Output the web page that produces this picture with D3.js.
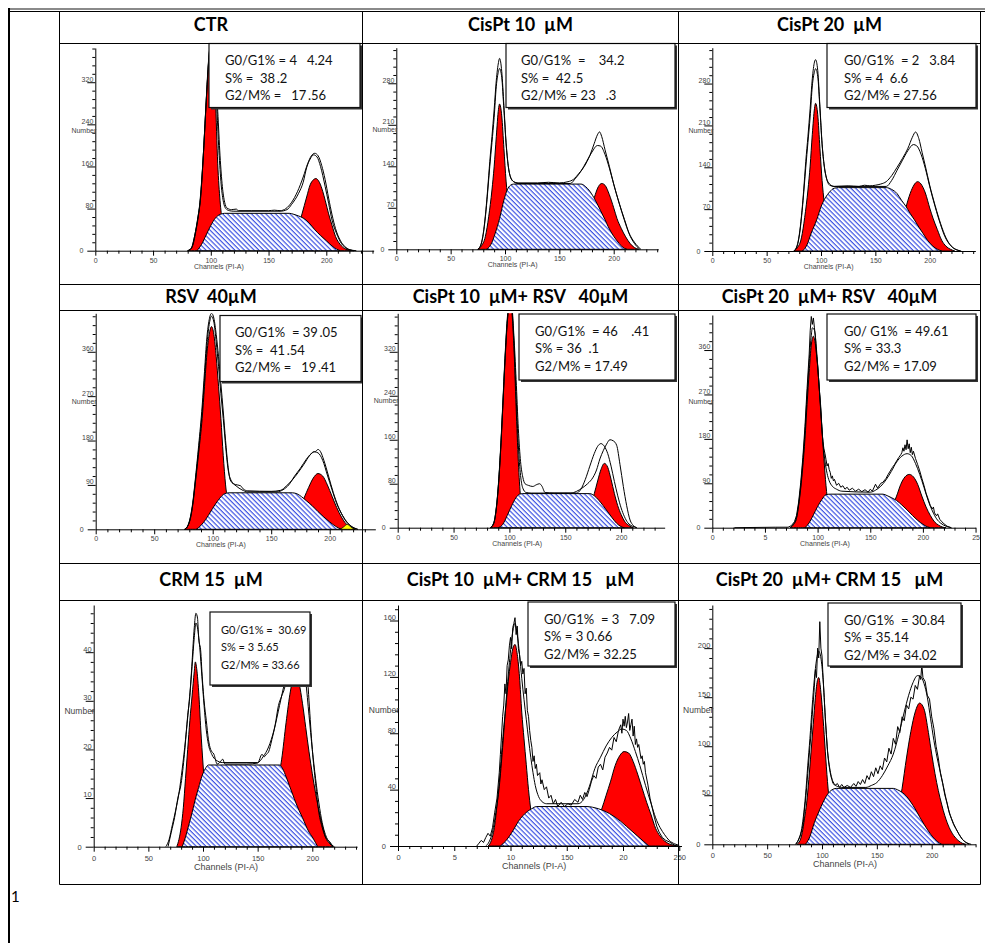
<!DOCTYPE html>
<html lang="en">
<head>
<meta charset="UTF-8">
<title>Cell cycle histograms</title>
<script src="https://cdn.jsdelivr.net/npm/d3@7"></script>
<style>
  body { margin: 0; background: #fff; }
  .title { font-family: Lato, 'Open Sans', sans-serif; font-weight: bold; font-size: 18px; white-space: pre; }
  .stat { font-family: Lato, 'Open Sans', sans-serif; white-space: pre; fill: #111; }
  .axis text { font-family: 'Liberation Sans', Arial, sans-serif; fill: #444; }
  .axis-label { font-family: 'Liberation Sans', Arial, sans-serif; fill: #444; }
</style>
</head>
<body>
<svg id="chart" width="985" height="943"></svg>
<script>
// ---- data: [channel, count] ----
const titles = ['CTR', 'CisPt 10  µM', 'CisPt 20  µM',
  'RSV  40µM', 'CisPt 10  µM+ RSV   40µM', 'CisPt 20  µM+ RSV   40µM',
  'CRM 15  µM', 'CisPt 10  µM+ CRM 15   µM', 'CisPt 20  µM+ CRM 15   µM']

const statLines = [
  ['G0/G1% = 4   4.24', 'S% =  38\u2009.2', 'G2/M% =   17\u2009.56'],
  ['G0/G1%  =    34.2', 'S% =  42\u2009.5', 'G2/M% = 23   .3'],
  ['G0/G1%  = 2   3.84', 'S% = 4  6.6', 'G2/M% = 27.56'],
  ['G0/G1%  = 39\u2009.05', 'S% =  41\u2009.54', 'G2/M% =   19\u2009.41'],
  ['G0/G1%  = 46    .41', 'S% = 36  .1', 'G2/M% = 17.49'],
  ['G0/ G1%  = 49.61', 'S% = 33.3', 'G2/M% = 17.09'],
  ['G0/G1% =  30.69', 'S% = 3 5.65', 'G2/M% = 33.66'],
  ['G0/G1%  = 3   7.09', 'S% = 3 0.66', 'G2/M% = 32.25'],
  ['G0/G1%  = 30.84', 'S% = 35.14', 'G2/M% = 34.02']
]

const yAxisMax = [385, 340, 340, 438, 390, 431, 49.7, 171, 244]
const yMajorStep = [80, 70, 70, 90, 80, 90, 10, 40, 50]
const yMinorStep = [16, 14, 14, 18, 16, 18, 2, 8, 10]
const stdLabels = ['0', '50', '100', '150', '200']
const xTickLabels = [stdLabels, stdLabels, stdLabels, stdLabels, stdLabels,
  ['0', '5', '100', '150', '200', '25'], stdLabels,
  ['0', '5', '10', '150', '20', '250'], stdLabels]

// G0/G1 peak (red)
const g1Curves = [
  [[80,0],[83,4],[86,28],[89,65],[91,96],[93,160],[95,240],[97,320],[99,380],[100,390],[102,370],[104,290],[106,165],[108,95],[110,55],[113,22],[116,6],[120,0]],
  [[75,0],[78,5],[82,22],[85,55],[88,100],[90,139],[92,190],[94,236],[95,245],[97,225],[99,170],[101,115],[103,78],[105,48],[108,22],[112,7],[116,0]],
  [[75,0],[78,5],[82,22],[85,56],[88,102],[90,142],[92,195],[94,238],[95,247],[97,228],[99,172],[101,118],[103,80],[105,50],[108,23],[112,7],[116,0]],
  [[76,0],[79,8],[81,22],[83,50],[85,90],[88,155],[91,225],[93,290],[95,355],[97,395],[99,411],[101,395],[103,350],[105,290],[107,225],[109,150],[111,90],[114,45],[118,15],[122,3],[126,0]],
  [[83,0],[86,8],[88,30],[90,72],[92,135],[94,215],[96,300],[98,370],[100,405],[102,395],[104,330],[106,220],[108,120],[110,55],[112,22],[115,6],[118,0]],
  [[74,0],[77,6],[80,19],[82,45],[84,80],[86,125],[88,180],[90,250],[92,315],[94,370],[96,388],[98,370],[100,328],[102,270],[104,205],[106,140],[108,85],[110,45],[113,15],[117,3],[120,0]],
  [[76,0],[78,1.5],[80,4],[82,8],[84,14],[86,20],[88,26],[90,31],[92,36],[93,38],[94,37],[96,32],[98,24],[100,17],[102,11],[104,6],[107,2.5],[110,0]],
  [[80,0],[83,4],[86,15],[88,29],[90,45],[92,65],[94,84],[96,100],[98,117],[100,130],[102,140],[104,143],[106,136],[108,120],[110,95],[112,76],[114,58],[116,40],[118,26],[121,13],[125,4],[130,0]],
  [[77,0],[80,4],[82,12],[84,26],[86,42],[88,66],[90,94],[92,122],[94,150],[96,168],[97,170],[99,155],[101,128],[103,95],[105,64],[107,40],[110,18],[114,5],[118,0]]
]

// S phase (hatched)
const sCurves = [
  [[88,0],[92,12],[96,30],[100,48],[104,62],[108,69],[112,71],[168,71],[172,69],[176,66],[180,62],[185,53],[190,40],[195,29],[200,19],[205,9],[209,3],[212,0]],
  [[83,0],[87,8],[91,27],[95,52],[99,83],[102,100],[105,108],[108,110],[170,110],[174,106],[178,98],[183,83],[188,65],[192,50],[195,38],[200,22],[205,10],[208,4],[212,0]],
  [[83,0],[87,10],[91,30],[96,52],[100,74],[104,89],[108,99],[112,105],[116,106],[160,106],[165,103],[170,96],[174,85],[178,75],[182,63],[186,52],[190,40],[194,29],[198,18],[203,8],[207,3],[211,0]],
  [[86,0],[90,8],[94,20],[98,35],[102,50],[106,63],[110,72],[114,74],[168,74],[172,72],[176,66],[180,58],[185,48],[190,36],[195,25],[200,15],[205,6],[210,0]],
  [[90,0],[94,6],[98,22],[102,40],[106,55],[109,61],[112,62],[172,62],[176,58],[180,50],[184,40],[188,29],[192,18],[196,8],[200,2],[203,0]],
  [[88,0],[92,10],[96,26],[100,43],[104,57],[108,67],[112,68],[162,68],[166,65],[170,61],[175,55],[180,46],[185,36],[190,25],[195,15],[200,7],[204,2],[207,0]],
  [[81,0],[84,2],[87,4.5],[90,7],[93,9.8],[96,12.2],[99,14.5],[102,16],[105,16.8],[170,16.8],[173,16],[176,14.4],[179,12.6],[182,10.8],[185,9],[188,7.4],[191,6],[194,4.4],[197,3],[200,2],[203,0.8],[205,0]],
  [[91,0],[95,3],[99,7],[103,12],[107,17.5],[111,21.5],[115,24.5],[119,26.5],[123,28],[168,28],[173,27.5],[178,26.5],[183,25],[188,23],[193,20.5],[198,17.5],[203,14],[208,10.5],[213,7],[218,3.5],[223,0]],
  [[85,0],[89,8],[93,22],[97,33],[101,43],[105,51],[109,55.5],[113,57],[165,57],[169,55.5],[173,53],[177,49],[181,43],[185,36],[189,28],[193,20.5],[197,13.5],[201,7.5],[205,3],[209,0]]
]

// G2/M peak (red)
const g2Curves = [
  [[165,0],[170,12],[175,38],[179,70],[183,102],[186,125],[189,135],[191,137],[194,130],[197,112],[199,96],[202,70],[205,48],[208,27],[212,12],[216,4],[220,1],[224,0]],
  [[165,0],[170,15],[175,40],[180,72],[183,92],[186,106],[189,111],[192,108],[196,92],[200,70],[203,52],[207,35],[211,21],[215,10],[219,3],[223,0]],
  [[165,0],[170,18],[175,50],[180,85],[184,105],[187,114],[189,116],[192,112],[196,97],[200,72],[203,55],[207,36],[211,18],[215,8],[219,3],[223,0]],
  [[162,0],[168,12],[173,35],[178,63],[182,85],[186,104],[190,113],[194,108],[198,90],[202,67],[206,44],[210,25],[214,11],[218,4],[222,0]],
  [[165,0],[169,18],[173,42],[176,62],[179,85],[182,106],[185,117],[188,110],[191,88],[194,62],[197,40],[200,24],[203,12],[207,4],[211,0]],
  [[160,0],[165,15],[170,38],[175,64],[179,88],[183,103],[187,108],[191,103],[195,88],[199,64],[203,42],[207,25],[211,12],[215,5],[219,1],[222,0]],
  [[150,0],[158,3],[164,8],[168,13],[172,18],[176,25.5],[180,32],[184,35.5],[188,33.5],[191,29.5],[194,24.5],[197,19.5],[200,15],[203,11],[206,7.5],[209,4.5],[212,2],[216,0.6],[219,0]],
  [[160,0],[166,4],[172,10],[177,18],[181,26],[185,36],[189,46],[193,57],[197,64],[201,67],[205,66],[209,60],[213,51],[217,41],[221,31],[225,22],[229,12.5],[233,7],[237,3.5],[241,1.5],[246,0.4],[249,0]],
  [[155,0],[160,6],[165,16],[169,32],[173,57],[177,88],[181,115],[185,135],[189,144],[193,138],[197,114],[200,92],[203,72],[206,55],[209,41],[212,29],[216,17],[220,9],[224,4],[228,1],[231,0]]
]

// small debris peak (yellow), only in RSV panel
const debrisCurves = [[], [], [], [[209,0],[212,5],[215,10],[218,5],[221,0]], [], [], [], [], []]

// model fit envelope
const fitCurves = [
  [[80,0],[83,4],[86,28],[89,66],[91,98],[93,162],[95,242],[97,322],[99,382],[100,392],[101,388],[103,340],[105,280],[107,190],[109,125],[111,92],[113,80],[116,76],[120,75],[160,75],[166,78],[170,88],[176,109],[180,130],[183,158],[186,174],[189,182],[192,178],[195,160],[199,122],[202,90],[205,58],[209,32],[213,14],[218,4],[224,0]],
  [[75,0],[78,8],[80,25],[82,55],[84,95],[86,140],[88,180],[90,222],[92,275],[94,300],[95,305],[97,290],[99,235],[101,178],[103,140],[105,122],[108,114],[112,111],[160,111],[165,120],[170,132],[175,148],[180,164],[185,175],[188,174],[192,160],[196,137],[200,110],[205,78],[210,48],[214,27],[219,10],[224,0]],
  [[75,0],[78,8],[80,25],[82,55],[84,95],[86,140],[88,182],[90,224],[92,276],[94,300],[95,305],[97,292],[99,238],[101,178],[103,142],[105,122],[108,112],[112,108],[160,108],[165,118],[170,135],[175,152],[180,168],[185,178],[188,176],[192,162],[196,138],[200,108],[205,74],[210,44],[214,24],[220,8],[228,0]],
  [[76,0],[79,8],[81,24],[83,52],[85,94],[88,162],[91,238],[93,305],[95,372],[97,415],[99,432],[101,420],[103,380],[105,330],[107,275],[109,225],[111,170],[113,124],[116,98],[120,88],[125,80],[130,76],[155,76],[160,80],[165,90],[170,108],[175,124],[180,142],[184,153],[187,157],[190,155],[194,140],[198,110],[202,80],[206,52],[210,32],[214,16],[218,7],[224,0]],
  [[83,0],[86,8],[88,30],[90,72],[92,136],[94,218],[96,303],[98,372],[100,408],[102,400],[104,340],[106,240],[108,150],[110,95],[112,72],[115,64],[120,63],[160,63],[164,70],[168,88],[172,112],[176,135],[179,148],[182,153],[185,148],[188,135],[191,112],[194,84],[197,58],[200,36],[203,20],[206,9],[210,3],[214,0]],
  [[74,0],[77,7],[80,21],[82,48],[84,86],[86,135],[88,195],[90,268],[92,335],[94,390],[95,405],[97,400],[99,360],[101,300],[103,235],[105,175],[107,135],[109,110],[111,95],[114,84],[118,78],[123,74],[150,72],[155,76],[160,84],[165,97],[170,114],[175,133],[180,145],[185,150],[189,146],[193,130],[197,108],[201,82],[205,55],[209,34],[213,18],[217,9],[222,3],[227,0]],
  [[66,0],[69,1.5],[72,4.5],[75,7.5],[78,11],[81,16],[84,22],[87,29],[90,37],[92,43],[93.5,46],[95,45],[97,41],[99,35],[101,29],[103,24],[105,21],[108,19],[112,17.8],[118,17.3],[150,17.3],[155,18.5],[160,20.5],[165,24],[170,29],[175,34],[180,38],[185,40],[190,39],[194,34],[197,27],[200,20],[203,14],[206,9],[209,5],[212,2.5],[216,0.8],[220,0]],
  [[78,0],[81,3],[84,10],[87,24],[90,42],[93,70],[96,102],[99,130],[102,152],[104,158],[106,150],[108,136],[110,119],[112,104],[114,90],[116,76],[118,63],[120,52],[122,43],[125,35],[128,31.5],[132,30],[160,30],[165,33],[170,42],[175,55],[180,63],[185,71],[190,77],[195,81],[199,83],[203,82],[207,76],[211,67],[215,57],[220,43],[225,30],[229,20],[233,13],[237,8],[241,4],[246,1.5],[250,0.5]],
  [[76,0],[79,6],[81,13],[83,28],[85,50],[87,80],[89,108],[91,140],[93,168],[95,188],[97,197],[99,190],[101,168],[103,130],[105,96],[107,78],[110,64],[114,59],[118,58],[140,58],[145,60],[150,63],[155,70],[160,80],[165,92],[170,112],[175,135],[179,152],[183,165],[187,172],[190,171],[193,164],[196,150],[199,128],[202,106],[205,88],[209,68],[212,52],[216,33],[220,21],[224,12],[228,5],[232,1.5],[236,0]]
]

// raw histogram
const rawCurves = [
  [[80,0],[84,8],[87,36],[90,80],[92,130],[94,200],[96,285],[98,360],[100,395],[102,392],[104,335],[106,265],[108,180],[110,122],[112,92],[114,81],[118,78],[122,79],[124,76],[135,76],[150,76],[155,77],[160,76],[165,80],[170,92],[175,112],[180,140],[184,166],[187,180],[190,185],[193,180],[196,162],[199,135],[202,100],[205,68],[208,42],[212,20],[216,8],[220,2],[226,0]],
  [[75,0],[78,9],[80,27],[82,58],[84,100],[86,148],[88,190],[90,235],[92,285],[94,315],[95,322],[97,300],[99,242],[101,180],[103,141],[105,122],[108,114],[112,112],[130,112],[140,113],[150,112],[158,114],[163,118],[168,128],[173,140],[178,158],[182,178],[185,193],[187,198],[189,190],[192,168],[196,140],[200,110],[205,78],[210,50],[214,28],[219,12],[225,0]],
  [[75,0],[78,9],[80,27],[82,58],[84,100],[86,150],[88,192],[90,238],[92,288],[94,316],[95,320],[97,302],[99,242],[101,180],[103,142],[105,122],[108,110],[112,108],[125,109],[135,108],[140,110],[145,109],[150,110],[155,112],[160,116],[165,126],[170,140],[175,155],[180,172],[184,190],[187,199],[190,188],[193,165],[196,142],[200,110],[205,76],[210,46],[215,22],[221,6],[229,0]],
  [[76,0],[79,9],[81,26],[83,55],[85,98],[88,170],[91,250],[93,320],[95,388],[97,425],[99,438],[101,428],[103,395],[105,350],[107,295],[109,240],[111,180],[113,130],[115,100],[118,92],[121,90],[124,88],[126,82],[130,78],[150,77],[158,79],[163,88],[168,100],[173,115],[178,132],[183,150],[186,157],[188,158],[190,162],[192,158],[195,140],[199,108],[203,75],[207,48],[211,28],[215,14],[219,5],[224,0]],
  [[83,0],[86,9],[88,32],[90,75],[92,140],[94,222],[96,308],[98,378],[100,410],[102,405],[104,350],[106,270],[108,180],[110,120],[112,92],[114,80],[117,77],[121,75],[124,78],[127,80],[129,76],[132,64],[140,63],[155,63],[160,66],[165,72],[170,80],[175,92],[178,105],[181,125],[184,140],[187,152],[190,160],[193,158],[196,150],[199,115],[202,75],[205,40],[208,14],[211,4],[214,0]],
  [[21,0],[60,1],[72,1],[75,4],[78,12],[80,25],[82,52],[84,92],[86,142],[88,205],[90,282],[92,352],[93,400],[94,428],[95,412],[96,425],[97,405],[98,385],[99,350],[100,330],[101,300],[102,270],[103,245],[104,205],[105,175],[106,160],[107,150],[108,138],[109,125],[110,130],[111,118],[112,112],[113,100],[114,105],[115,95],[116,98],[118,86],[120,90],[122,82],[124,85],[126,78],[128,82],[130,76],[133,80],[136,74],[139,78],[142,73],[145,77],[148,72],[150,78],[152,74],[155,88],[157,80],[160,90],[162,92],[165,100],[167,108],[169,115],[171,122],[173,128],[175,135],[177,142],[179,148],[180,152],[181,162],[182,155],[183,168],[184,158],[185,178],[186,160],[187,170],[188,152],[189,163],[190,148],[191,155],[193,140],[195,128],[197,115],[199,100],[201,86],[203,70],[205,58],[207,45],[209,38],[210,42],[211,30],[213,24],[214,28],[216,17],[218,12],[220,8],[223,3],[227,0]],
  [[68,0],[71,3],[74,6],[77,10],[80,13],[83,19],[86,27],[88,31],[90,38],[92,45],[93.5,48],[95,47],[96,43],[98,40],[99,36],[101,30],[103,26],[105,22],[107,20],[110,19],[113,17],[116,17.5],[118,18],[120,17],[140,17],[150,17.2],[154,19],[156,18.5],[158,19],[160,19.5],[163,22],[166,25],[169,29],[172,31],[175,33],[178,38],[181,40],[185,42],[190,44],[194,40],[197,30],[200,20],[203,13],[206,7],[209,4],[212,2],[216,1],[219,0]],
  [[70,0],[72,2],[74,4],[76,2.5],[78,6],[80,9],[82,7],[84,13],[86,24],[88,34],[90,52],[91,65],[92,78],[93,92],[94,100],[95,115],[96,108],[97,128],[98,132],[99,142],[100,148],[101,140],[102,155],[103,158],[104,162],[105,150],[106,156],[107,140],[108,136],[109,128],[110,131],[111,122],[112,126],[113,108],[114,112],[115,96],[116,92],[117,82],[118,75],[119,70],[120,60],[121,64],[122,55],[123,58],[124,50],[126,52],[127,44],[128,47],[130,40],[132,42],[134,34],[136,36],[138,30],[140,33],[142,28],[145,31],[148,28],[151,30],[154,29],[157,33],[160,31],[162,36],[164,33],[166,38],[168,35],[170,40],[172,46],[174,50],[176,48],[178,56],[180,58],[182,54],[184,63],[186,66],[188,70],[190,68],[192,77],[194,74],[196,82],[198,86],[199,80],[200,90],[201,85],[202,92],[203,84],[204,88],[205,94],[206,82],[207,86],[208,90],[209,78],[210,85],[211,72],[212,76],[213,70],[214,72],[216,62],[217,64],[218,58],[219,60],[220,52],[222,44],[224,34],[226,27],[228,20],[230,14],[232,10],[235,6],[238,4],[241,3],[244,1.5],[247,0]],
  [[76,0],[78,3],[80,8],[82,16],[83,22],[84,35],[85,45],[86,58],[87,72],[88,86],[89,100],[90,112],[91,130],[92,145],[93,160],[94,178],[95,170],[96,200],[97,190],[98,227],[99,200],[100,192],[101,170],[102,150],[103,128],[104,112],[105,95],[106,84],[107,76],[108,70],[109,66],[110,62],[112,60],[114,62],[116,58],[118,61],[120,58],[123,60],[126,58],[129,62],[131,59],[133,64],[135,61],[137,66],[139,62],[141,70],[143,66],[145,74],[147,69],[149,78],[151,72],[153,80],[155,76],[157,88],[159,84],[161,98],[163,92],[165,108],[167,102],[169,120],[171,114],[173,130],[175,126],[177,142],[179,138],[181,150],[183,148],[185,162],[187,158],[189,172],[190,168],[191,183],[192,170],[194,166],[196,152],[198,148],[200,130],[202,118],[204,100],[206,88],[208,72],[210,62],[212,50],[214,42],[216,32],[218,26],[220,20],[222,16],[225,10],[228,5],[231,2],[234,0]]
]

// ---- layout (pixels) ----
const colX = [59.5, 362.5, 678.5, 980.5]
const rowY = [[11.5, 43.5, 284.5], [284.5, 310.5, 563.5], [563.5, 600.5, 884.5]]
const titleBase = [31, 302.5, 586]
const layout = [
  { ax: 95.3, ay: 250.7, ppc: 1.155, xEnd: 241, top: 48, box: [209, 43.5, 151, 64], tx: 16, fs: 13 },
  { ax: 396.3, ay: 249.3, ppc: 1.087, xEnd: 241, top: 47.7, box: [506, 43.5, 169, 64], tx: 15, fs: 13 },
  { ax: 712.3, ay: 251, ppc: 1.087, xEnd: 242, top: 47.7, box: [827, 43.5, 149, 64], tx: 17, fs: 13 },
  { ax: 95.7, ay: 529.3, ppc: 1.17, xEnd: 239, top: 313.3, box: [220, 315.5, 141, 66], tx: 15, fs: 13 },
  { ax: 397.7, ay: 527.7, ppc: 1.117, xEnd: 239, top: 313.3, box: [519, 314, 156, 66], tx: 16, fs: 13 },
  { ax: 712.3, ay: 527.7, ppc: 1.053, xEnd: 250, top: 315, box: [827, 314, 149, 66], tx: 17, fs: 13 },
  { ax: 93.7, ay: 846.7, ppc: 1.093, xEnd: 241, top: 605, box: [210, 612, 100, 73], tx: 11, fs: 11 },
  { ax: 398, ay: 846, ppc: 1.125, xEnd: 252, top: 605, box: [528, 602, 147, 64], tx: 16, fs: 13 },
  { ax: 712.3, ay: 844.3, ppc: 1.097, xEnd: 240, top: 605, box: [828, 603, 133, 63], tx: 16, fs: 13 }
]
const jaggedPanels = [5, 7, 8]

const svg = d3.select('#chart')
const defs = svg.append('defs')

// diagonal blue hatch for the S phase
const hatch = defs.append('pattern')
  .attr('id', 'hatch')
  .attr('patternUnits', 'userSpaceOnUse')
  .attr('width', 3.4).attr('height', 3.4)
  .attr('patternTransform', 'rotate(45)')
hatch.append('rect').attr('width', 3.4).attr('height', 3.4).attr('fill', '#fff')
hatch.append('rect').attr('width', 3.4).attr('height', 1.2).attr('fill', '#3d52e2')

titles.forEach((title, i) => {
  const row = Math.floor(i / 3)
  const col = i % 3
  const L = layout[i]

  // title
  svg.append('text')
    .attr('class', 'title')
    .attr('x', (colX[col] + colX[col + 1]) / 2)
    .attr('y', titleBase[row])
    .attr('text-anchor', 'middle')
    .text(title)

  const x = d3.scaleLinear().domain([0, L.xEnd]).range([L.ax, L.ax + L.xEnd * L.ppc])
  const y = d3.scaleLinear().domain([0, yAxisMax[i]]).range([L.ay, L.top])

  defs.append('clipPath').attr('id', `clip${i}`)
    .append('rect')
    .attr('x', L.ax).attr('y', L.top)
    .attr('width', L.xEnd * L.ppc).attr('height', L.ay - L.top + 1)

  const g = svg.append('g')
  const small = row === 2 ? 7.5 : 7

  // axes
  const xAxis = d3.axisBottom(x)
    .tickValues(d3.range(0, L.xEnd + 0.001, 10))
    .tickSizeInner(3).tickSizeOuter(0)
    .tickFormat(d => d % 50 === 0 ? (xTickLabels[i][d / 50] || '') : '')
  const gx = g.append('g').attr('class', 'axis')
    .attr('transform', `translate(0,${L.ay})`)
    .call(xAxis)
  gx.attr('font-size', small)
  gx.selectAll('.tick line').filter(d => d % 50 === 0).attr('y2', 5)
  gx.selectAll('.tick text').attr('y', row === 2 ? 8.5 : 7)

  const yAxis = d3.axisLeft(y)
    .tickValues(d3.range(0, yAxisMax[i] + 0.001, yMinorStep[i]))
    .tickSizeInner(3).tickSizeOuter(0)
    .tickFormat(d => d % yMajorStep[i] === 0 ? d : '')
  const gy = g.append('g').attr('class', 'axis')
    .attr('transform', `translate(${L.ax},0)`)
    .call(yAxis)
  gy.attr('font-size', small)
  gy.selectAll('.tick line').filter(d => d % yMajorStep[i] === 0).attr('x2', -8)
  gy.selectAll('.tick text')
    .attr('x', d => d === 0 ? -12 : -2)
    .attr('dy', d => d === 0 ? '0.32em' : '-0.15em')

  g.append('text')
    .attr('class', 'axis-label')
    .attr('font-size', row === 2 ? 8.5 : 7)
    .attr('text-anchor', 'end')
    .attr('x', L.ax + 1)
    .attr('y', L.ay - (row === 2 ? 0.55 : 0.58) * (L.ay - L.top))
    .text('Number')

  g.append('text')
    .attr('class', 'axis-label')
    .attr('font-size', row === 2 ? 9 : 7)
    .attr('text-anchor', 'middle')
    .attr('x', x(row === 2 ? 121 : 107))
    .attr('y', L.ay + (row === 2 ? 23 : 18))
    .text('Channels (PI-A)')

  // marks
  const marks = g.append('g').attr('clip-path', `url(#clip${i})`)
  const area = d3.area()
    .x(d => x(d[0])).y0(y(0)).y1(d => y(d[1]))
    .curve(d3.curveMonotoneX)
  const smooth = d3.line().x(d => x(d[0])).y(d => y(d[1])).curve(d3.curveMonotoneX)
  const rough = d3.line().x(d => x(d[0])).y(d => y(d[1]))

  marks.append('path').datum(g1Curves[i]).attr('d', area)
    .attr('fill', '#ff0000').attr('stroke', '#000').attr('stroke-width', 1)
  marks.append('path').datum(g2Curves[i]).attr('d', area)
    .attr('fill', '#ff0000').attr('stroke', '#000').attr('stroke-width', 1)
  marks.append('path').datum(sCurves[i]).attr('d', area)
    .attr('fill', 'url(#hatch)').attr('stroke', '#000').attr('stroke-width', 1)
  if (debrisCurves[i].length) {
    marks.append('path').datum(debrisCurves[i]).attr('d', area)
      .attr('fill', '#ffff00').attr('stroke', '#000').attr('stroke-width', 0.8)
  }
  marks.append('path').datum(fitCurves[i]).attr('d', smooth)
    .attr('fill', 'none').attr('stroke', '#000').attr('stroke-width', 1)
  marks.append('path').datum(rawCurves[i])
    .attr('d', jaggedPanels.includes(i) ? rough : smooth)
    .attr('fill', 'none').attr('stroke', '#000').attr('stroke-width', 1)

  // stats box
  const [bx, by, bw, bh] = L.box
  g.append('rect').attr('x', bx + 2).attr('y', by + 2).attr('width', bw).attr('height', bh)
    .attr('fill', '#333')
  g.append('rect').attr('x', bx).attr('y', by).attr('width', bw).attr('height', bh)
    .attr('fill', '#fff').attr('stroke', '#111').attr('stroke-width', 1.2)
  statLines[i].forEach((line, k) => {
    g.append('text')
      .attr('class', 'stat')
      .attr('font-size', L.fs)
      .attr('x', bx + L.tx)
      .attr('y', by + 21.5 + k * 17.5)
      .text(line)
  })
})

// table frame
const frame = svg.append('g').attr('stroke', '#000').attr('stroke-width', 1)
frame.append('line').attr('x1', 9).attr('x2', 985).attr('y1', 9).attr('y2', 9)
  .attr('stroke', '#8a8a8a').attr('stroke-width', 2)
frame.append('line').attr('x1', 9).attr('x2', 985).attr('y1', 11.5).attr('y2', 11.5)
frame.append('line').attr('x1', 9).attr('x2', 9).attr('y1', 8).attr('y2', 943)
  .attr('stroke-width', 2)
rowY.flat().forEach(yy => {
  frame.append('line').attr('x1', colX[0]).attr('x2', colX[3]).attr('y1', yy).attr('y2', yy)
})
colX.forEach(xx => {
  frame.append('line').attr('x1', xx).attr('x2', xx).attr('y1', 11.5).attr('y2', 884.5)
})

svg.append('text')
  .attr('x', 11).attr('y', 902)
  .attr('font-family', 'Lato, sans-serif').attr('font-size', 15)
  .text('1')
</script>
</body>
</html>
